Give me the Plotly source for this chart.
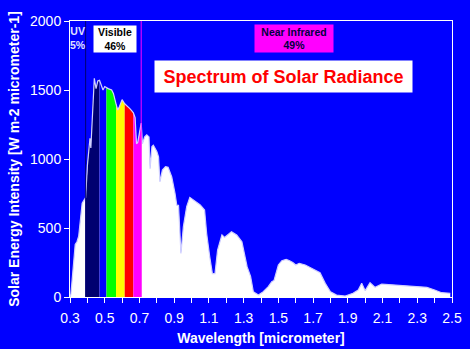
import plotly.graph_objects as go
import numpy as np

# Wavelength [micrometer] and solar energy intensity [W m-2 micrometer-1]
wavelength = [0.30, 0.305, 0.31, 0.32, 0.33, 0.34, 0.35, 0.36, 0.37, 0.38, 0.39,
              0.40, 0.41, 0.415, 0.42, 0.43, 0.44, 0.45, 0.46, 0.47, 0.48, 0.49,
              0.50, 0.51, 0.52, 0.54, 0.55, 0.565, 0.575, 0.585, 0.60, 0.615,
              0.63, 0.645, 0.655, 0.665, 0.675, 0.683, 0.69, 0.70, 0.71, 0.717,
              0.73, 0.742, 0.755, 0.761, 0.772, 0.78, 0.80, 0.81, 0.818, 0.832,
              0.85, 0.865, 0.886, 0.905, 0.915, 0.925, 0.939, 0.953, 0.972, 0.99,
              1.01, 1.05, 1.075, 1.087, 1.105, 1.12, 1.135, 1.15, 1.175, 1.19,
              1.23, 1.26, 1.29, 1.32, 1.34, 1.356, 1.385, 1.413, 1.442, 1.462,
              1.475, 1.50, 1.52, 1.545, 1.565, 1.585, 1.60, 1.62, 1.655, 1.69,
              1.74, 1.77, 1.80, 1.835, 1.885, 1.93, 1.96, 1.98, 2.00, 2.028,
              2.057, 2.095, 2.16, 2.26, 2.355, 2.40, 2.44, 2.49]
intensity = [0, 20, 90, 250, 380, 400, 440, 560, 680, 700, 720,
             950, 1120, 1150, 1080, 1400, 1585, 1510, 1565, 1570, 1530, 1500,
             1525, 1515, 1510, 1500, 1475, 1400, 1355, 1380, 1430, 1400,
             1385, 1365, 1350, 1335, 1300, 1110, 1120, 1180, 1260, 1110,
             1160, 1175, 1160, 930, 1090, 1100, 1055, 1015, 835, 920,
             945, 940, 870, 750, 665, 665, 315, 510, 655, 722,
             703, 667, 630, 460, 290, 170, 170, 340, 450, 432,
             473, 450, 400, 220, 150, 38, 14, 38, 75, 111,
             120, 232, 263, 273, 263, 249, 232, 244, 232, 208,
             176, 99, 38, 14, 7, 27, 50, 99, 46, 104,
             70, 94, 87, 80, 70, 51, 31, 27]

band_edges = [0.39, 0.47, 0.51, 0.565, 0.615, 0.665, 0.71]
band_colors = ["#000070", "#0000FF", "#00FF00", "#FFFF00", "#FF0000", "#FF00FF"]

x_ticks = [0.3, 0.5, 0.7, 0.9, 1.1, 1.3, 1.5, 1.7, 1.9, 2.1, 2.3, 2.5]
x_tick_labels = ["0.3", "0.5", "0.7", "0.9", "1.1", "1.3", "1.5", "1.7", "1.9", "2.1", "2.3", "2.5"]
y_ticks = [0, 500, 1000, 1500, 2000]

wl = np.array(wavelength)
iv = np.array(intensity)

FONT = "Liberation Sans, Arial, sans-serif"
fig = go.Figure()

fig.add_trace(go.Scatter(x=wl, y=iv, mode="lines", fill="tozeroy",
                         fillcolor="#FFFFFF", line=dict(width=0, color="#FFFFFF"),
                         hoverinfo="skip"))
for lo, hi, col in zip(band_edges[:-1], band_edges[1:], band_colors):
    m = (wl >= lo - 1e-9) & (wl <= hi + 1e-9)
    fig.add_trace(go.Scatter(x=wl[m], y=iv[m], mode="lines", fill="tozeroy",
                             fillcolor=col, line=dict(width=0, color=col),
                             hoverinfo="skip"))
fig.add_trace(go.Scatter(x=wl, y=iv, mode="lines",
                         line=dict(width=1.2, color="#D0D0FF"), hoverinfo="skip"))

fig.add_shape(type="line", x0=band_edges[0], x1=band_edges[0], y0=0, y1=2000,
              xref="x", yref="y", line=dict(color="#000070", width=1))
fig.add_shape(type="line", x0=band_edges[-1], x1=band_edges[-1], y0=0, y1=2000,
              xref="x", yref="y", line=dict(color="#FF00FF", width=1))

fig.add_annotation(x=0.346, y=1877, xref="x", yref="y", showarrow=False,
                   text="<b>UV<br>5%</b>", font=dict(family=FONT, size=10.5, color="#E0E0FF"))
fig.add_annotation(x=0.559, y=1870, xref="x", yref="y", showarrow=False,
                   text="<b>Visible<br>46%</b>", bgcolor="#FFFFFF", width=40, height=24,
                   font=dict(family=FONT, size=10.5, color="#000000"))
fig.add_annotation(x=1.59, y=1873, xref="x", yref="y", showarrow=False,
                   text="<b>Near Infrared<br>49%</b>", bgcolor="#FF00FF", width=76, height=25,
                   font=dict(family=FONT, size=10.5, color="#000040"))
fig.add_annotation(x=1.53, y=1598, xref="x", yref="y", showarrow=False,
                   text="<b>Spectrum of Solar Radiance</b>", bgcolor="#FFFFFF",
                   width=255, height=29,
                   font=dict(family=FONT, size=18, color="#FF0000"))

fig.update_layout(
    width=470, height=349,
    margin=dict(l=70, r=18, t=21, b=52),
    paper_bgcolor="#0000FF", plot_bgcolor="#0000FF",
    showlegend=False,
    xaxis=dict(range=[0.3, 2.5], tickvals=x_ticks, ticktext=x_tick_labels,
               ticks="outside", ticklen=5, tickcolor="#FFFFFF", showgrid=False,
               zeroline=False, showline=True, mirror=True, linecolor="#FFFFFF",
               ticklabelstandoff=3, automargin=False,
               minor=dict(dtick=0.1, tick0=0.3, ticks="outside", ticklen=5,
                          tickcolor="#FFFFFF", showgrid=False),
               tickfont=dict(family=FONT, size=14, color="#FFFFFF"),
               title=dict(text="<b>Wavelength [micrometer]</b>", standoff=8,
                          font=dict(family=FONT, size=14, color="#FFFFFF"))),
    yaxis=dict(range=[0, 2000], tickvals=y_ticks, ticks="outside", ticklen=5,
               tickcolor="#FFFFFF", showgrid=False, zeroline=False, showline=True,
               mirror=True, linecolor="#FFFFFF", automargin=False,
               tickfont=dict(family=FONT, size=14, color="#FFFFFF"),
               title=dict(text="<b>Solar Energy Intensity [W m-2 micrometer-1]</b>",
                          standoff=7, font=dict(family=FONT, size=14, color="#FFFFFF"))),
)

fig.write_html("out.html")
